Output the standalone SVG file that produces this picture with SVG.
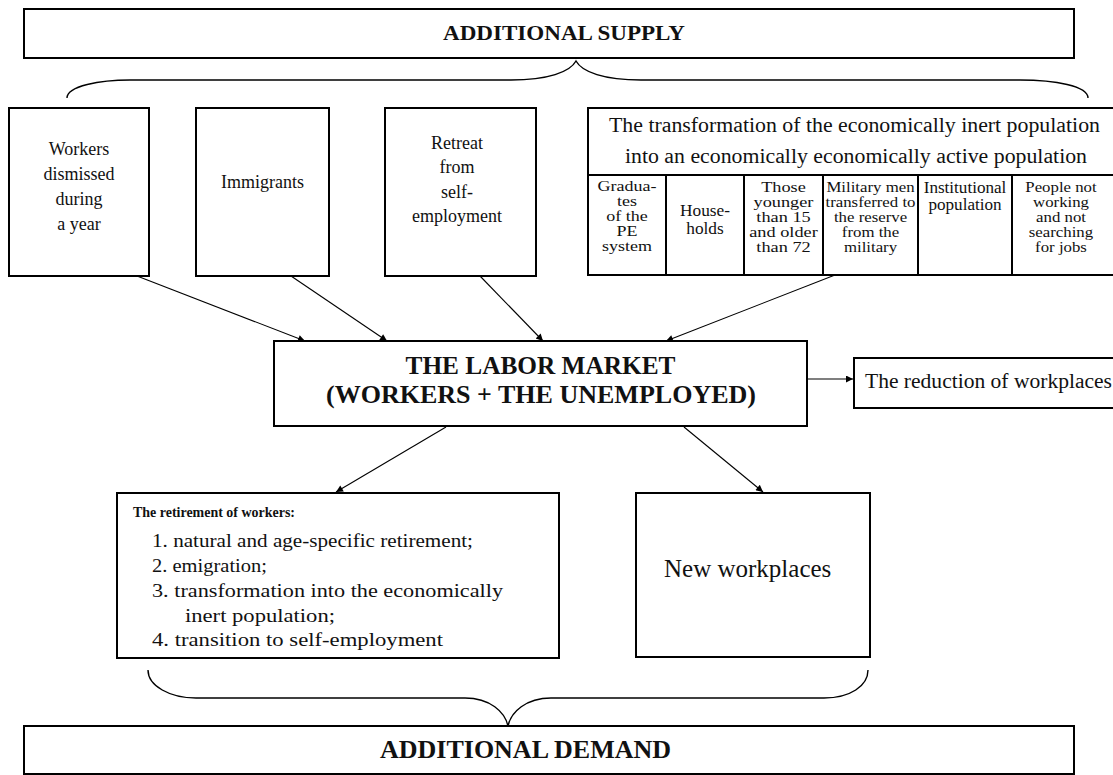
<svg xmlns="http://www.w3.org/2000/svg" width="1113" height="775" viewBox="0 0 1113 775">
  <defs>
    <marker id="arrow" viewBox="0 0 10 10" refX="10" refY="5" markerWidth="10" markerHeight="7" markerUnits="userSpaceOnUse" orient="auto">
      <path d="M0,0 L10,5 L0,10 Z" fill="#000"/>
    </marker>
    <style>
      .box { fill: #fff; stroke: #000; stroke-width: 2; }
      .cell { fill: none; stroke: #000; stroke-width: 2; }
      .link { fill: none; stroke: #000; stroke-width: 1.1; marker-end: url(#arrow); }
      .brace { fill: none; stroke: #000; stroke-width: 1.4; }
      text { font-family: "Liberation Serif", "Times New Roman", serif; fill: #111; }
      .c { text-anchor: middle; }
      .b { font-weight: bold; }
      .t18 { font-size: 18px; }
      .t15 { font-size: 15px; }
      .t14 { font-size: 14px; }
      .t20 { font-size: 20px; }
      .item { font-size: 19.5px; }
    </style>
  </defs>

  <rect width="1113" height="775" fill="#fff"/>

  <!-- top label -->
  <g id="additional-supply">
    <rect class="box" x="24" y="9" width="1050" height="49"/>
    <text class="c b" x="564" y="40" font-size="21" textLength="242" lengthAdjust="spacingAndGlyphs">ADDITIONAL SUPPLY</text>
  </g>

  <!-- brace grouping the supply sources -->
  <g id="supply-brace">
    <path class="brace" d="M67,98 C67,86 100,80 130,80 L511,80 C548,80 570,72 576,61 C582,72 604,80 641,80 L1020,80 C1055,80 1088,86 1088,98"/>
  </g>

  <g id="workers-dismissed">
    <rect class="box" x="9" y="108" width="140" height="168"/>
    <text class="c t18" x="79" y="155">Workers</text>
    <text class="c t18" x="79" y="180">dismissed</text>
    <text class="c t18" x="79" y="205">during</text>
    <text class="c t18" x="79" y="230">a year</text>
  </g>

  <g id="immigrants">
    <rect class="box" x="196" y="108" width="133" height="168"/>
    <text class="c t18" x="262.5" y="188">Immigrants</text>
  </g>

  <g id="retreat">
    <rect class="box" x="385" y="108" width="151" height="168"/>
    <text class="c t18" x="457" y="149">Retreat</text>
    <text class="c t18" x="457" y="173">from</text>
    <text class="c t18" x="457" y="198">self-</text>
    <text class="c t18" x="457" y="222">employment</text>
  </g>

  <g id="transformation">
    <rect class="box" x="588" y="108" width="530" height="167"/>
    <line class="cell" x1="588" y1="175" x2="1118" y2="175"/>
    <line class="cell" x1="666" y1="175" x2="666" y2="275"/>
    <line class="cell" x1="744" y1="175" x2="744" y2="275"/>
    <line class="cell" x1="823" y1="175" x2="823" y2="275"/>
    <line class="cell" x1="918" y1="175" x2="918" y2="275"/>
    <line class="cell" x1="1012" y1="175" x2="1012" y2="275"/>
    <text class="c t20" x="854.5" y="132" textLength="491" lengthAdjust="spacingAndGlyphs">The transformation of the economically inert population</text>
    <text class="c t20" x="856" y="163" textLength="462" lengthAdjust="spacingAndGlyphs">into an economically economically active population</text>

    <!-- table cells: slightly widened serif, centred on each column -->
    <g transform="translate(627 0) scale(1.2 1)">
      <text class="c t15" x="0" y="191">Gradua-</text>
      <text class="c t15" x="0" y="206">tes</text>
      <text class="c t15" x="0" y="221">of the</text>
      <text class="c t15" x="0" y="236">PE</text>
      <text class="c t15" x="0" y="251">system</text>
    </g>

    <g transform="translate(705 0) scale(1.05 1)">
      <text class="c" x="0" y="216" font-size="16.5">House-</text>
      <text class="c" x="0" y="234" font-size="16.5">holds</text>
    </g>

    <g transform="translate(783.5 0) scale(1.22 1)">
      <text class="c t15" x="0" y="192">Those</text>
      <text class="c t15" x="0" y="207">younger</text>
      <text class="c t15" x="0" y="222">than 15</text>
      <text class="c t15" x="0" y="237">and older</text>
      <text class="c t15" x="0" y="252">than 72</text>
    </g>

    <g transform="translate(870.5 0) scale(1.2 1)">
      <text class="c t14" x="0" y="192">Military men</text>
      <text class="c t14" x="0" y="207">transferred to</text>
      <text class="c t14" x="0" y="222">the reserve</text>
      <text class="c t14" x="0" y="237">from the</text>
      <text class="c t14" x="0" y="252">military</text>
    </g>

    <g transform="translate(965 0) scale(1.07 1)">
      <text class="c" x="0" y="193" font-size="16">Institutional</text>
      <text class="c" x="0" y="210" font-size="16">population</text>
    </g>

    <g transform="translate(1061 0) scale(1.2 1)">
      <text class="c t14" x="0" y="192">People not</text>
      <text class="c t14" x="0" y="207">working</text>
      <text class="c t14" x="0" y="222">and not</text>
      <text class="c t14" x="0" y="237">searching</text>
      <text class="c t14" x="0" y="252">for jobs</text>
    </g>
  </g>

  <g id="labor-market">
    <rect class="box" x="274" y="341" width="533" height="85"/>
    <text class="c b" x="540.5" y="374" font-size="25" textLength="270" lengthAdjust="spacingAndGlyphs">THE LABOR MARKET</text>
    <text class="c b" x="541" y="403" font-size="25" textLength="430" lengthAdjust="spacingAndGlyphs">(WORKERS + THE UNEMPLOYED)</text>
  </g>

  <g id="reduction">
    <rect class="box" x="854" y="358" width="270" height="50"/>
    <text x="865" y="388" font-size="20.5" textLength="247" lengthAdjust="spacingAndGlyphs">The reduction of workplaces</text>
  </g>

  <g id="retirement">
    <rect class="box" x="117" y="493" width="442" height="165"/>
    <text class="b" x="133" y="517" font-size="14.5" textLength="162" lengthAdjust="spacingAndGlyphs">The retirement of workers:</text>
    <text class="item" x="152" y="547" textLength="321" lengthAdjust="spacingAndGlyphs">1. natural and age-specific retirement;</text>
    <text class="item" x="152" y="572" textLength="115" lengthAdjust="spacingAndGlyphs">2. emigration;</text>
    <text class="item" x="152" y="597" textLength="351" lengthAdjust="spacingAndGlyphs">3. transformation into the economically</text>
    <text class="item" x="185" y="622" textLength="150" lengthAdjust="spacingAndGlyphs">inert population;</text>
    <text class="item" x="152" y="646" textLength="291" lengthAdjust="spacingAndGlyphs">4. transition to self-employment</text>
  </g>

  <g id="new-workplaces">
    <rect class="box" x="636" y="493" width="234" height="164"/>
    <text x="664" y="577" font-size="25">New workplaces</text>
  </g>

  <!-- brace grouping the demand sources -->
  <g id="demand-brace">
    <path class="brace" d="M148,670 C148,686 170,698 196,698 L465,698 C490,698 505,712 508,726 C511,712 526,698 551,698 L824,698 C850,698 868,686 868,670"/>
  </g>

  <g id="additional-demand">
    <rect class="box" x="24" y="726" width="1050" height="48"/>
    <text class="c b" x="525.5" y="758" font-size="25" textLength="291" lengthAdjust="spacingAndGlyphs">ADDITIONAL DEMAND</text>
  </g>

  <g id="connectors">
    <line class="link" x1="137" y1="276" x2="305" y2="341"/>
    <line class="link" x1="291" y1="276" x2="387" y2="341"/>
    <line class="link" x1="480" y1="276" x2="543" y2="341"/>
    <line class="link" x1="835" y1="275" x2="666" y2="341"/>
    <line class="link" x1="807" y1="379" x2="853" y2="379"/>
    <line class="link" x1="446" y1="427" x2="336" y2="492"/>
    <line class="link" x1="684" y1="427" x2="763" y2="492"/>
  </g>
</svg>
